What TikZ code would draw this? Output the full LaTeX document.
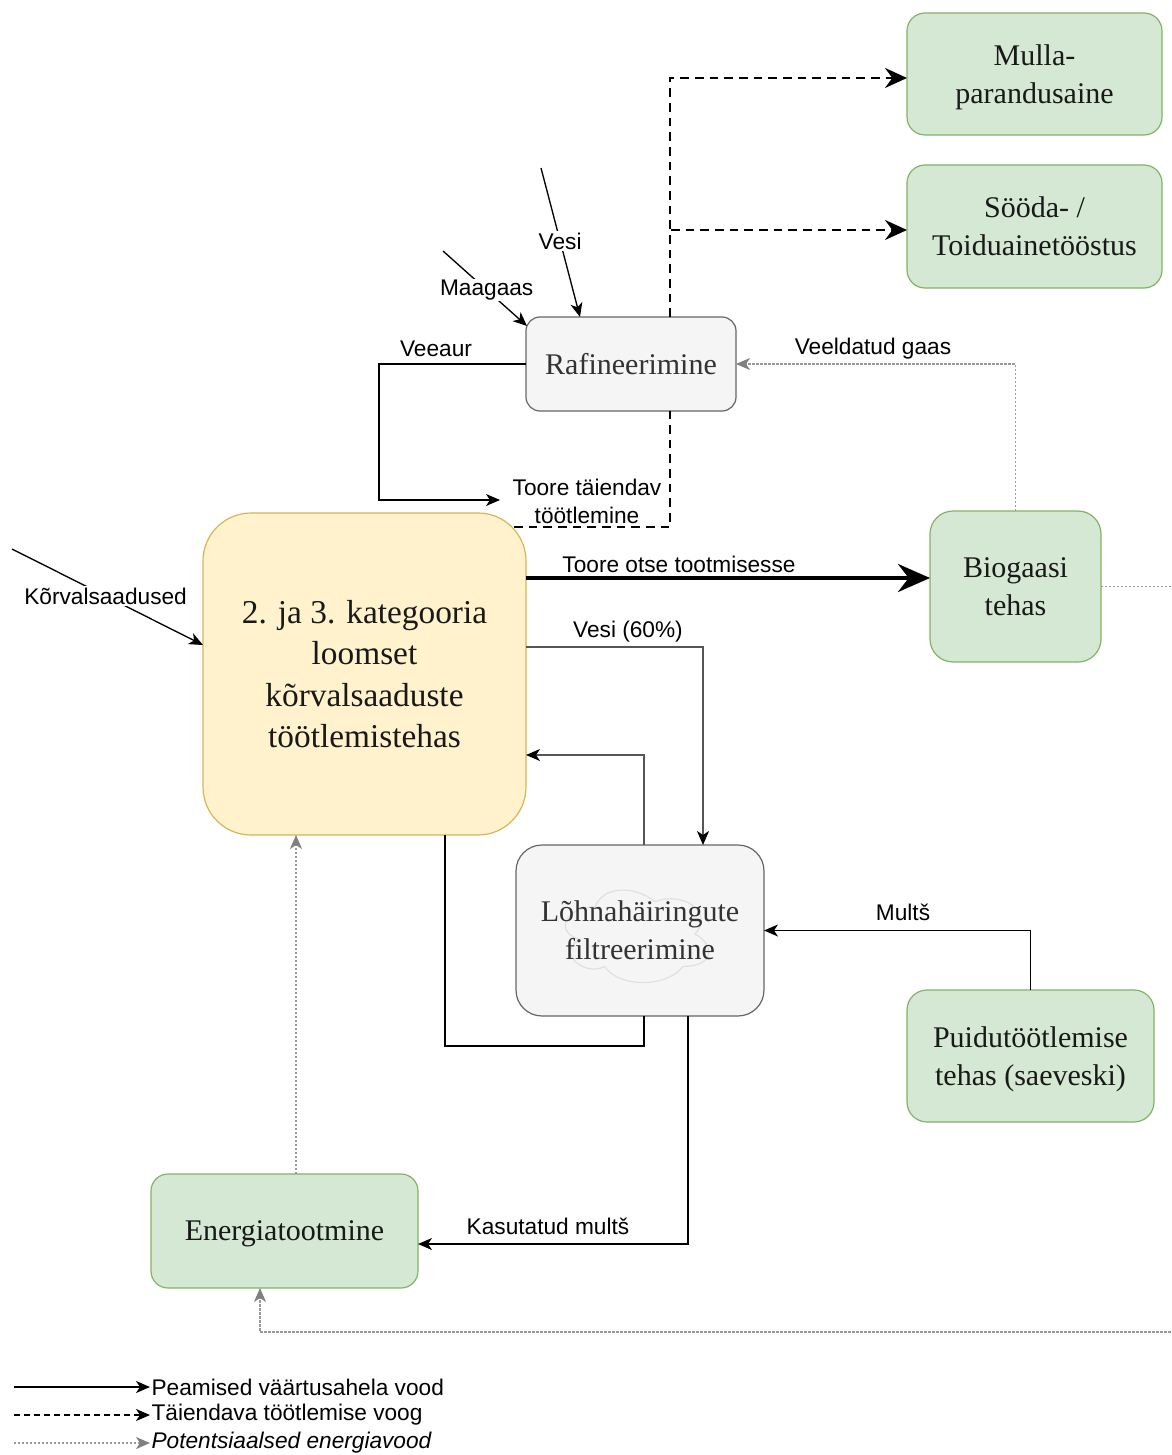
\documentclass[tikz,border=0pt]{standalone}
\usepackage{fontspec}
\setmainfont{Liberation Serif}
\setsansfont{Liberation Sans}
\usetikzlibrary{arrows.meta,calc}

\definecolor{gfill}{HTML}{D5E8D4}
\definecolor{gline}{HTML}{82B366}
\definecolor{yfill}{HTML}{FFF2CC}
\definecolor{yline}{HTML}{D6B656}
\definecolor{pfill}{HTML}{F5F5F5}
\definecolor{pline}{HTML}{666666}
\definecolor{ptext}{HTML}{333333}
\definecolor{dotgray}{HTML}{999999}
\definecolor{tipgray}{HTML}{808080}
\definecolor{midgray}{HTML}{555555}
\definecolor{cloudline}{HTML}{E0E0E0}

\tikzset{
  ftip/.tip={Stealth[length=10.5pt,width=9pt,inset=3pt]},
  dtip/.tip={Stealth[length=16.5pt,width=15pt,inset=5.5pt]},
  btip/.tip={Stealth[length=24pt,width=21pt,inset=8pt]},
  box/.style={draw, line width=0.9pt, inner sep=0pt, outer sep=0pt, align=center,
    font=\fontsize{22.5}{28.5}\selectfont},
  greenbox/.style={box, fill=gfill, draw=gline, text=black!90},
  graybox/.style={box, fill=pfill, draw=pline, text=ptext},
  yellowbox/.style={box, fill=yfill, draw=yline, text=black!90,
    font=\fontsize{25}{31}\selectfont},
  flow/.style={line width=1pt, draw=black, -{ftip}},
  grayflow/.style={line width=1pt, draw=midgray, -{ftip[color=black]}},
  plainline/.style={line width=1pt, draw=black},
  dashline/.style={line width=1.9pt, draw=black, dash pattern=on 6.5pt off 4.5pt},
  dashflow/.style={dashline, -{dtip}},
  dotflow/.style={line width=0.85pt, draw=dotgray, dash pattern=on 1.7pt off 1.3pt,
    -{ftip[color=tipgray]}},
  thickflow/.style={line width=3pt, draw=black, -{btip}},
  lbl/.style={font=\sffamily\fontsize{17}{21}\selectfont, inner sep=1pt, align=center},
  legtext/.style={font=\sffamily\fontsize{17}{21}\selectfont, inner sep=1pt, anchor=west},
}

\begin{document}
\begin{tikzpicture}[x=0.75pt,y=-0.75pt]
\useasboundingbox (0,0) rectangle (1171,1455);
\fill[white] (0,0) rectangle (1171,1455);

% ---- process boxes ----
\node[greenbox, minimum width=191.25pt, minimum height=91.5pt, rounded corners=13.5pt,
  text depth=-2.6pt] (mulla) at (1034.5,74) {Mulla-\\parandusaine};
\node[greenbox, minimum width=191.25pt, minimum height=92.25pt, rounded corners=13.5pt,
  text depth=-3pt] (sooda) at (1034.5,226.5) {Sööda- /\\Toiduainetööstus};
\node[graybox, minimum width=157.5pt, minimum height=70.5pt, rounded corners=10.5pt]
  (raf) at (631,364) {Rafineerimine};
\node[greenbox, minimum width=128.25pt, minimum height=113.25pt, rounded corners=17.25pt,
  text depth=-3pt] (bio) at (1015.5,586.5) {Biogaasi\\tehas};
\node[yellowbox, minimum width=242.25pt, minimum height=241.5pt, rounded corners=36pt]
  (main) at (364.5,674) {2. ja 3. kategooria\\loomset\\kõrvalsaaduste\\töötlemistehas};

% odour filter: box, faint cloud outline, then its text on top
\node[graybox, minimum width=186pt, minimum height=128.25pt, rounded corners=19.5pt]
  (lohna) at (640,930.5) {};
\draw[cloudline, line width=0.9pt, line join=round]
  (595,907) .. controls (563,907) and (555,934) .. (580.6,939.4)
  .. controls (555,951.3) and (583.8,977.2) .. (604.6,966.4)
  .. controls (619,988) and (667,988) .. (683,966.4)
  .. controls (715,966.4) and (715,944.8) .. (695,934)
  .. controls (715,912.4) and (683,890.8) .. (655,901.6)
  .. controls (635,885.4) and (603,885.4) .. (595,907) -- cycle;
\node[box, draw=none, text=ptext, text depth=-3pt] (lohnaText) at (lohna.center)
  {Lõhnahäiringute\\filtreerimine};

\node[greenbox, minimum width=185.25pt, minimum height=99pt, rounded corners=15pt,
  text depth=-2.6pt] (puidu) at (1030.5,1056) {Puidutöötlemise\\tehas (saeveski)};
\node[greenbox, minimum width=200.25pt, minimum height=85.5pt, rounded corners=12.75pt,
  text depth=-2.6pt] (energia) at (284.5,1231) {Energiatootmine};

% ---- free ends ----
\coordinate (vesiIn) at (541,168);
\coordinate (maagaasIn) at (443,251);
\coordinate (korvIn) at (12,549);
\coordinate (veeaurTurn) at (379,500);
\coordinate (veeaurEnd) at (500,500);
\coordinate (offR) at (1195,1332);

% ---- further processing (dashed) ----
\draw[dashline] ($(main.north east)+(-12,14)$) -| ($(raf.south)+(39,0)$);
\draw[dashflow] ($(raf.north)+(39,0)$) |- ($(mulla.west)+(0,4)$);
\draw[dashflow] ($(raf.north)+(39,0)$) |- ($(sooda.west)+(0,3.5)$);

% ---- inputs ----
\draw[flow] (vesiIn) -- node[lbl, fill=white, pos=0.49] (tVesi) {Vesi} ($(raf.north)+(-51,0)$);
\draw[flow] (maagaasIn) -- node[lbl, fill=white, pos=0.52] (tMaagaas) {Maagaas} ($(raf.north west)+(1,9)$);
\draw[flow] (korvIn) -- node[lbl, fill=white, pos=0.49] (tKorv) {Kõrvalsaadused} ($(main.west)+(0,-29)$);

% ---- steam loop ----
\draw[flow] (raf.west) -| (veeaurTurn) -- (veeaurEnd);
\node[lbl] (tVeeaur) at (436,349) {Veeaur};
\node[lbl] (tToore) at (587,501) {Toore täiendav\\töötlemine};

% ---- main value chain ----
\draw[thickflow] ($(main.east)+(0,-96)$) -- ($(bio.west)+(0,-8.5)$);
\node[lbl] (tOtse) at (679,564) {Toore otse tootmisesse};

\draw[grayflow] ($(main.east)+(0,-27)$) -| ($(lohna.north)+(63,0)$);
\node[lbl] (tVesi60) at (628,632) {Vesi (60\%)};
\draw[grayflow] ($(lohna.north)+(4,0)$) |- ($(main.east)+(0,81)$);
\draw[plainline] ($(main.south)+(80.5,0)$) |- ($(lohna.south)+(4,30)$) -- ($(lohna.south)+(4,0)$);

\draw[flow] ($(lohna.south)+(48,0)$) |- ($(energia.east)+(0,13)$);
\node[lbl] (tKasut) at (548,1226) {Kasutatud multš};

\draw[flow] (puidu.north) |- (lohna.east);
\node[lbl] (tMults) at (903,912) {Multš};

% ---- potential energy flows (dotted) ----
\draw[dotflow] (bio.north) |- (raf.east);
\node[lbl] (tGaas) at (873,349) {Veeldatud gaas};
\draw[dotflow] (bio.east) -| (offR) -| ($(energia.south)+(-24.5,0)$);
\draw[dotflow] ($(energia.north)+(11.5,0)$) -- ($(main.south)+(-68.5,0)$);

% ---- legend ----
\coordinate (leg1) at (14,1387);
\coordinate (leg2) at (14,1415);
\coordinate (leg3) at (14,1443);
\node[legtext] (legt1) at (150,1387) {Peamised väärtusahela vood};
\node[legtext] (legt2) at (150,1415) {Täiendava töötlemise voog};
\node[legtext] (legt3) at (150,1443) {\itshape Potentsiaalsed energiavood};
\draw[flow] (leg1) -- (legt1.west);
\draw[line width=1pt, dash pattern=on 4.5pt off 3pt, -{ftip}] (leg2) -- (legt2.west);
\draw[dotflow] (leg3) -- (legt3.west);
\end{tikzpicture}
\end{document}
